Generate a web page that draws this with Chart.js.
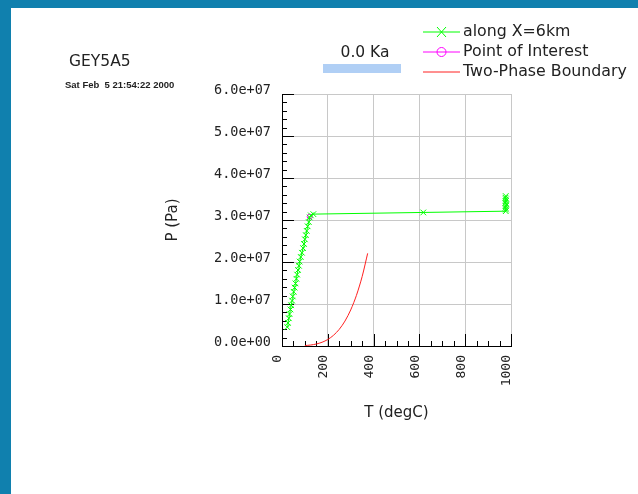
<!DOCTYPE html>
<html>
<head>
<meta charset="utf-8">
<script src="https://cdn.jsdelivr.net/npm/chart.js@4/dist/chart.umd.min.js"></script>
<style>
  html, body { margin: 0; padding: 0; background: #fff; }
  #wrap { width: 638px; height: 494px; }
</style>
</head>
<body>
<div id="wrap"><canvas id="plot" width="638" height="494"></canvas></div>
<script>
// along X=6km (T degC, P Pa)
const alongT = [23, 26, 30, 33, 37, 40, 44, 47, 51, 55, 59, 63, 66, 70, 74, 77, 82, 87, 92, 96, 100, 104, 108, 112, 117, 121, 126, 137, 617, 977, 978, 976, 977, 979, 976, 977, 978, 976, 977];
const alongP = [4.5e6, 5.5e6, 6.6e6, 7.6e6, 8.7e6, 9.7e6, 10.8e6, 11.8e6, 12.9e6, 13.9e6, 14.9e6, 16.0e6, 17.0e6, 18.1e6, 19.1e6, 20.1e6, 21.2e6, 22.2e6, 23.3e6, 24.3e6, 25.4e6, 26.4e6, 27.4e6, 28.5e6, 29.5e6, 30.6e6, 31.1e6, 31.4e6, 31.8e6, 32.1e6, 32.5e6, 32.9e6, 33.3e6, 33.7e6, 34.1e6, 34.5e6, 34.9e6, 35.3e6, 35.7e6];

// point of interest
const poiT = [121];
const poiP = [3.08e7];

// two-phase boundary
const boundaryT = [100, 125, 150, 175, 200, 225, 250, 275, 300, 325, 350, 374];
const boundaryP = [1.01e5, 2.32e5, 4.76e5, 8.92e5, 1.55e6, 2.55e6, 3.97e6, 5.94e6, 8.58e6, 1.205e7, 1.653e7, 2.206e7];

const seriesNames = ["along X=6km", "Point of Interest", "Two-Phase Boundary"];

const titleText = "GEY5A5";
const dateText = "Sat Feb  5 21:54:22 2000";
const timeText = "0.0 Ka";
const xTitle = "T (degC)";
const yTitle = "P (Pa)";

const toPoints = (xs, ys) => xs.map((x, i) => ({ x: x, y: ys[i] }));

const sciLabel = (v) => {
  const parts = Number(v).toExponential(1).split("e");
  const exp = parts[1];
  return parts[0] + "e" + exp[0] + exp.slice(1).padStart(2, "0");
};

const decor = {
  id: "decor",
  beforeDraw(chart) {
    const ctx = chart.ctx;
    ctx.save();
    ctx.fillStyle = "#fff";
    ctx.fillRect(0, 0, chart.width, chart.height);
    ctx.fillStyle = "#1080ae";
    ctx.fillRect(0, 0, chart.width, 8);
    ctx.fillRect(0, 0, 11, chart.height);
    ctx.restore();
  },
  beforeDatasetsDraw(chart) {
    // minor/major ticks inside the plot
    const ctx = chart.ctx;
    const area = chart.chartArea;
    const xs = chart.scales.x;
    const ys = chart.scales.y;
    ctx.save();
    ctx.strokeStyle = "#000";
    ctx.lineWidth = 1;
    ctx.beginPath();
    for (let t = 0; t <= 1000; t += 50) {
      const px = Math.round(xs.getPixelForValue(t)) + 0.5;
      const len = t % 200 === 0 ? 12 : 5;
      ctx.moveTo(px, area.bottom);
      ctx.lineTo(px, area.bottom - len);
    }
    for (let p = 0; p <= 6e7; p += 2e6) {
      const py = Math.round(ys.getPixelForValue(p)) + 0.5;
      const len = p % 1e7 === 0 ? 12 : 5;
      ctx.moveTo(area.left, py);
      ctx.lineTo(area.left + len, py);
    }
    ctx.stroke();
    ctx.restore();
  },
  afterDraw(chart) {
    const ctx = chart.ctx;
    const area = chart.chartArea;
    ctx.save();
    ctx.fillStyle = "#222";
    ctx.textBaseline = "middle";

    ctx.font = "15.5px 'DejaVu Sans'";
    ctx.textAlign = "left";
    ctx.fillText(titleText, 69, 62);

    ctx.font = "bold 9.5px 'Liberation Sans'";
    ctx.fillText(dateText, 65, 85);

    ctx.font = "15.5px 'DejaVu Sans'";
    ctx.textAlign = "center";
    ctx.fillText(timeText, 365, 53);
    ctx.fillStyle = "#b0cff5";
    ctx.fillRect(323, 64, 78, 9);

    // axis titles
    ctx.fillStyle = "#222";
    ctx.font = "15px 'DejaVu Sans'";
    ctx.fillText(xTitle, (area.left + area.right) / 2, 413);
    ctx.save();
    ctx.translate(173, (area.top + area.bottom) / 2);
    ctx.rotate(-Math.PI / 2);
    ctx.fillText(yTitle, 0, 0);
    ctx.restore();

    // legend
    const rows = [32, 52, 72];
    chart.data.datasets.forEach((ds, i) => {
      const y = rows[i];
      ctx.strokeStyle = ds.borderColor;
      ctx.lineWidth = 1;
      ctx.beginPath();
      ctx.moveTo(423, y);
      ctx.lineTo(460, y);
      ctx.stroke();
      if (ds.pointStyle === "crossRot") {
        ctx.beginPath();
        ctx.moveTo(437, y - 5);
        ctx.lineTo(446, y + 5);
        ctx.moveTo(446, y - 5);
        ctx.lineTo(437, y + 5);
        ctx.stroke();
      } else if (ds.pointStyle === "circle") {
        ctx.beginPath();
        ctx.arc(441.5, y, 4.5, 0, Math.PI * 2);
        ctx.stroke();
      }
      ctx.fillStyle = "#222";
      ctx.font = "15.8px 'DejaVu Sans'";
      ctx.textAlign = "left";
      ctx.fillText(ds.label, 463, y);
    });
    ctx.restore();
  }
};

new Chart(document.getElementById("plot").getContext("2d"), {
  type: "scatter",
  data: {
    datasets: [
      {
        label: seriesNames[0],
        data: toPoints(alongT, alongP),
        showLine: true,
        borderColor: "#00ff00",
        backgroundColor: "#00ff00",
        borderWidth: 1,
        pointStyle: "crossRot",
        pointRadius: 4,
        pointBorderWidth: 1,
        tension: 0
      },
      {
        label: seriesNames[1],
        data: toPoints(poiT, poiP),
        showLine: false,
        borderColor: "#ff00ff",
        backgroundColor: "rgba(0,0,0,0)",
        pointStyle: "circle",
        pointRadius: 2.5,
        pointBorderWidth: 1
      },
      {
        label: seriesNames[2],
        data: toPoints(boundaryT, boundaryP),
        showLine: true,
        borderColor: "#ff2020",
        backgroundColor: "#ff2020",
        borderWidth: 1,
        pointRadius: 0,
        tension: 0.3
      }
    ]
  },
  options: {
    responsive: false,
    animation: false,
    layout: { padding: { top: 94, right: 127, bottom: 0, left: 0 } },
    plugins: { legend: { display: false }, tooltip: { enabled: false } },
    scales: {
      x: {
        type: "linear",
        min: 0,
        max: 1000,
        afterFit: (s) => { s.height = 148; },
        grid: { color: "#c8c8c8", drawTicks: false },
        border: { color: "#000", width: 1 },
        ticks: {
          stepSize: 200,
          autoSkip: false,
          minRotation: 90,
          maxRotation: 90,
          padding: 9,
          labelOffset: -4,
          color: "#222",
          font: { family: "'DejaVu Sans Mono'", size: 13 },
          callback: (v) => String(v)
        }
      },
      y: {
        type: "linear",
        min: 0,
        max: 6e7,
        afterFit: (s) => { s.width = 282; },
        grid: { color: "#c8c8c8", drawTicks: false },
        border: { color: "#000", width: 1 },
        ticks: {
          stepSize: 1e7,
          padding: 11,
          labelOffset: -4,
          color: "#222",
          font: { family: "'DejaVu Sans Mono'", size: 13.5 },
          callback: (v) => sciLabel(v)
        }
      }
    }
  },
  plugins: [decor]
});
</script>
</body>
</html>
